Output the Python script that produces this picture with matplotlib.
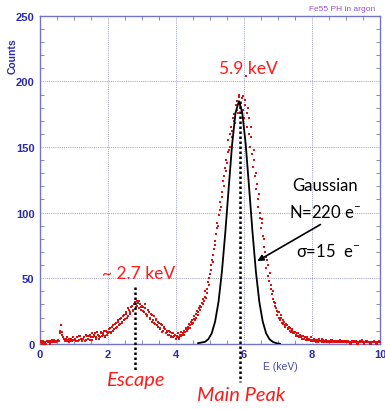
import numpy as np
import matplotlib.pyplot as plt
from matplotlib.ticker import MultipleLocator

# ---- data ----
bin_width = 0.04
energy = np.round(np.arange(0.02, 10.0, bin_width), 2)   # keV, bin centres
energy_b = np.round(energy + bin_width / 2, 2)            # interleaved channels

counts = [
    # 0 - 1 keV
    1, 0, 2, 1, 0, 1, 2, 1, 3, 2, 1, 2, 2, 3, 8, 14, 7, 4, 2, 5, 3, 1, 4, 2, 3,
    # 1 - 2 keV
    4, 2, 5, 3, 6, 2, 4, 5, 3, 6, 4, 7, 5, 3, 6, 8, 5, 7, 4, 9, 6, 8, 5, 10, 7,
    # 2 - 3 keV
    9, 12, 8, 14, 11, 16, 13, 18, 15, 20, 17, 22, 19, 24, 21, 26, 23, 29, 25, 31, 28, 33, 27, 30, 26,
    # 3 - 4 keV
    28, 24, 30, 22, 26, 20, 23, 17, 21, 15, 18, 13, 16, 11, 14, 10, 12, 8, 10, 7, 9, 5, 8, 6, 7,
    # 4 - 5 keV
    5, 8, 5, 9, 7, 10, 9, 12, 11, 15, 14, 18, 16, 21, 20, 25, 24, 29, 28, 34, 33, 40, 39, 47, 50,
    # 5 - 6 keV
    56, 64, 68, 78, 84, 92, 98, 108, 112, 124, 128, 140, 138, 155, 150, 165, 158, 175, 168, 185, 176, 190, 180, 187, 178,
    # 6 - 7 keV
    182, 204, 165, 172, 150, 158, 135, 140, 118, 122, 104, 100, 88, 92, 74, 70, 58, 60, 48, 45, 38, 34, 29, 27, 22,
    # 7 - 8 keV
    24, 18, 20, 15, 17, 13, 14, 11, 12, 9, 10, 8, 9, 6, 8, 5, 7, 4, 6, 5, 3, 5, 4, 3, 5,
    # 8 - 9 keV
    3, 4, 2, 3, 1, 3, 2, 4, 1, 2, 3, 1, 2, 1, 3, 2, 1, 2, 1, 2, 3, 1, 1, 2, 1,
    # 9 - 10 keV
    1, 2, 1, 0, 2, 1, 1, 2, 0, 1, 1, 3, 1, 0, 1, 2, 1, 1, 0, 1, 2, 1, 0, 1, 1,
]

counts_b = [
    2, 1, 0, 1, 2, 1, 0, 2, 1, 3, 2, 1, 3, 2, 10, 9, 5, 3, 4, 2, 4, 3, 2, 5, 3,
    3, 5, 2, 6, 4, 3, 5, 2, 7, 4, 6, 3, 8, 5, 7, 4, 9, 6, 5, 8, 7, 10, 6, 9, 8,
    11, 9, 13, 10, 15, 12, 17, 14, 19, 16, 21, 18, 23, 20, 27, 24, 28, 26, 30, 32, 29, 31, 33, 28, 29,
    25, 27, 23, 21, 24, 19, 22, 18, 16, 19, 14, 17, 12, 15, 9, 13, 11, 9, 7, 10, 6, 8, 5, 7, 4,
    6, 4, 7, 6, 8, 7, 11, 10, 13, 12, 17, 15, 19, 18, 23, 22, 27, 26, 31, 30, 36, 35, 42, 45, 53,
    60, 62, 72, 75, 88, 90, 102, 104, 116, 120, 134, 132, 146, 148, 160, 162, 172, 170, 182, 178, 188, 183, 176, 189, 172,
    186, 176, 180, 160, 165, 145, 148, 128, 130, 110, 114, 96, 95, 82, 80, 66, 64, 52, 54, 42, 40, 32, 31, 25, 24,
    20, 22, 16, 18, 14, 15, 12, 13, 10, 11, 8, 9, 7, 8, 6, 7, 5, 6, 4, 5, 4, 3, 4, 2, 3,
    2, 3, 1, 2, 4, 2, 1, 3, 2, 1, 2, 2, 1, 3, 1, 1, 2, 1, 2, 1, 1, 2, 1, 1, 2,
    2, 1, 0, 1, 1, 2, 1, 0, 1, 2, 1, 1, 0, 1, 2, 1, 1, 0, 1, 1, 1, 0, 1, 2, 1,
]

# gaussian expected from N=220 e-, sigma=15 e-
gauss_e = [4.65, 4.75, 4.85, 4.95, 5.05, 5.15, 5.25, 5.35, 5.45, 5.55, 5.65, 5.75,
           5.85, 5.95, 6.05, 6.15, 6.25, 6.35, 6.45, 6.55, 6.65, 6.75, 6.85, 6.95, 7.06]
gauss_counts = [0.5, 1, 1.5, 3.5, 8, 17, 32, 55, 85, 119, 152, 176,
                185, 176, 152, 119, 85, 55, 32, 17, 8, 3.5, 1.4, 0.5, 0]

escape_e = 2.79
peak_e = 5.88

axis_col = "#7474c4"
tick_col = "#2a2ab0"
red_txt = "#ff1a1a"

fig = plt.figure(figsize=(3.85, 4.10), dpi=100)
ax = fig.add_axes([0.104, 0.159, 0.883, 0.80])

for e, c in [(energy, counts), (energy_b, counts_b)]:
    ax.plot(e, c, "s", color="#dd1010", markersize=1.9, markeredgewidth=0, zorder=3)
ax.plot(gauss_e, gauss_counts, color="black", lw=1.3, zorder=4)

# dotted markers for the two peaks (run below the axis)
ax.plot([escape_e, escape_e], [43, -21], color="black", ls=(0, (1, 1)), lw=1.8,
        clip_on=False, zorder=5)
ax.plot([peak_e, peak_e], [185, -29], color="black", ls=(0, (1, 1)), lw=1.8,
        clip_on=False, zorder=5)

ax.set_xlim(0, 10)
ax.set_ylim(0, 250)
ax.xaxis.set_major_locator(MultipleLocator(2))
ax.xaxis.set_minor_locator(MultipleLocator(0.5))
ax.yaxis.set_major_locator(MultipleLocator(50))
ax.yaxis.set_minor_locator(MultipleLocator(10))
ax.tick_params(which="both", direction="in", top=True, right=True, color=axis_col,
               labelcolor=tick_col, labelsize=8)
ax.tick_params(which="major", length=0, pad=4)
ax.tick_params(which="minor", length=3)
for lab in ax.get_xticklabels() + ax.get_yticklabels():
    lab.set_fontweight("bold")
    lab.set_family("Liberation Sans")
for sp in ax.spines.values():
    sp.set_color(axis_col)
    sp.set_linewidth(1.0)
ax.grid(True, which="major", color="#9a9ad2", ls=(0, (1, 1.2)), lw=0.7)

ax.text(-0.082, 0.88, "Counts", transform=ax.transAxes, rotation=90, ha="center",
        va="center", color=tick_col, fontsize=7.5, fontweight="bold", family="Liberation Sans")
ax.text(7.06, -17, "E (keV)", ha="center", va="center", color="#4646c0", fontsize=7.5,
        family="Liberation Sans")
ax.text(1.0 - 0.014, 1.022, "Fe55 PH in argon", transform=ax.transAxes, ha="right",
        va="center", color="#9a50c8", fontsize=6, family="Liberation Sans")

ax.text(6.12, 210, "5.9 keV", ha="center", va="center", color=red_txt, fontsize=12.5, family="Lato")
ax.text(2.91, 54, "~ 2.7 keV", ha="center", va="center", color=red_txt, fontsize=12.5, family="Lato")
ax.text(2.79, -27, "Escape", ha="center", va="center", color=red_txt, fontsize=14.5,
        style="italic", family="Lato", clip_on=False)
ax.text(5.91, -39, "Main Peak", ha="center", va="center", color=red_txt, fontsize=14.5,
        style="italic", family="Lato", clip_on=False)

ax.text(8.38, 121, "Gaussian", ha="center", va="center", fontsize=12, family="Lato")
ax.text(8.38, 101, "N=220 e$^{\\mathregular{-}}$", ha="center", va="center", fontsize=12, family="Lato")
ax.text(8.47, 71, "\u03c3=15  e$^{\\mathregular{-}}$", ha="center", va="center", fontsize=12, family="Lato")
ax.annotate("", xy=(6.32, 62), xytext=(8.32, 92),
            arrowprops=dict(arrowstyle="-|>", color="black", lw=1.2, mutation_scale=9))

fig.savefig("out.png", dpi=100)
